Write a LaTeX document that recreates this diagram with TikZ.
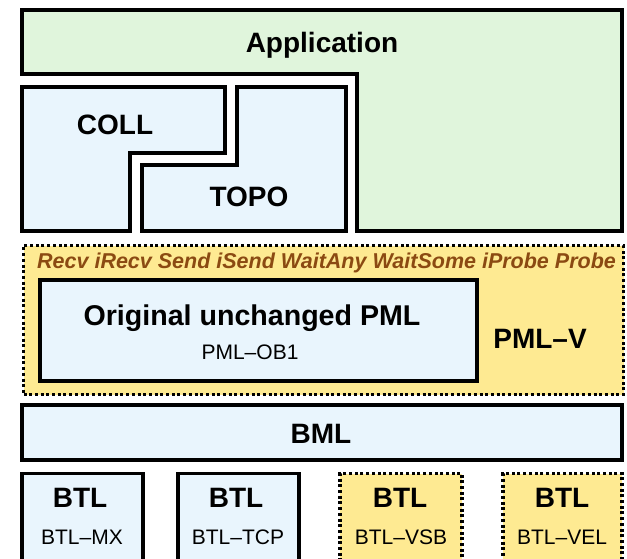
\documentclass[tikz,border=0pt]{standalone}
\usepackage{fontspec}
\setmainfont{Liberation Sans}

\definecolor{appgreen}{RGB}{224,245,220}
\definecolor{modblue}{RGB}{233,245,253}
\definecolor{vyellow}{RGB}{254,234,146}
\definecolor{callbrown}{RGB}{139,74,18}

\tikzset{
  solidbox/.style={draw=black, line width=3.1pt, fill=modblue, line join=miter},
  dotbox/.style={draw=black, line width=3.1pt, fill=vyellow, dash pattern=on 3pt off 2.7pt},
  bigtext/.style={font=\fontsize{28}{30}\selectfont\bfseries, inner sep=0pt},
  subtext/.style={font=\fontsize{21}{24}\selectfont, inner sep=0pt},
  calltext/.style={font=\fontsize{21.5}{24}\selectfont\bfseries\itshape, text=callbrown, inner sep=0pt},
}

\begin{document}
\begin{tikzpicture}[x=1pt,y=-1pt]
\useasboundingbox (0,0) rectangle (627,559);
\clip (0,0) rectangle (627,559);

% Application layer (L-shaped)
\draw[solidbox, fill=appgreen] (22,10) -- (622,10) -- (622,231) -- (357,231) -- (357,74) -- (22,74) -- cycle;
\node[bigtext, anchor=base] (app) at (322,53) {Application};

% COLL and TOPO interlocking blocks
\draw[solidbox] (22,87) -- (225,87) -- (225,153) -- (130,153) -- (130,231) -- (22,231) -- cycle;
\node[bigtext, anchor=base] (coll) at (115,135) {COLL};
\draw[solidbox] (142,231) -- (142,165) -- (237,165) -- (237,87) -- (346,87) -- (346,231) -- cycle;
\node[bigtext, anchor=base] (topo) at (249,207) {TOPO};

% PML-V wrapper
\node[dotbox, minimum width=600pt, minimum height=149pt, anchor=north west, inner sep=0pt] (pmlv) at (22,244) {};
\node[calltext, anchor=base west] (calls) at (37,269) {Recv iRecv Send iSend WaitAny WaitSome iProbe Probe};
\node[solidbox, minimum width=437pt, minimum height=101pt, inner sep=0pt] (orig) at (258.5,330.5) {};
\node[bigtext, font=\fontsize{28.6}{30}\selectfont\bfseries, anchor=base] (origlbl) at (252,325) {Original unchanged PML};
\node[subtext, anchor=base] (ob1) at (250,359) {PML–OB1};
\node[bigtext, anchor=base] (pmlvlbl) at (540,348) {PML–V};

% BML
\node[solidbox, minimum width=600pt, minimum height=55pt, inner sep=0pt] (bml) at (322,432.5) {};
\node[bigtext, anchor=base] (bmllbl) at (321,443) {BML};

% BTL modules
\node[solidbox, minimum width=121pt, minimum height=110pt, anchor=north, inner sep=0pt] (btlmx) at (82.5,472) {};
\node[solidbox, minimum width=121pt, minimum height=110pt, anchor=north, inner sep=0pt] (btltcp) at (238.5,472) {};
\node[dotbox, minimum width=122pt, minimum height=110pt, anchor=north, inner sep=0pt] (btlvsb) at (401,472) {};
\node[dotbox, minimum width=119pt, minimum height=110pt, anchor=north, inner sep=0pt] (btlvel) at (562.5,472) {};

\node[bigtext, anchor=base] (t1) at (80,507) {BTL};
\node[subtext, anchor=base] (s1) at (82,544) {BTL–MX};
\node[bigtext, anchor=base] (t2) at (236,507) {BTL};
\node[subtext, anchor=base] (s2) at (238,544) {BTL–TCP};
\node[bigtext, anchor=base] (t3) at (400,507) {BTL};
\node[subtext, anchor=base] (s3) at (401,544) {BTL–VSB};
\node[bigtext, anchor=base] (t4) at (562,507) {BTL};
\node[subtext, anchor=base] (s4) at (562,544) {BTL–VEL};
\end{tikzpicture}
\end{document}
